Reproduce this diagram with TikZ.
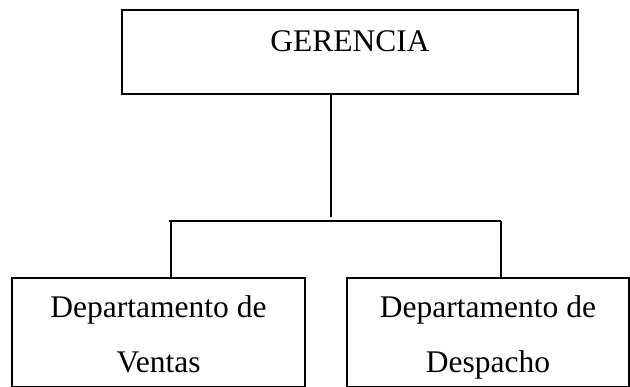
\documentclass[tikz,border=0pt]{standalone}
\usepackage{fontspec}
\setmainfont{Liberation Serif}
\begin{document}
\begin{tikzpicture}[x=1pt,y=-1pt,
  box/.style={draw=black, line width=2pt, inner sep=0pt, align=center,
    font=\fontsize{31.5}{55}\selectfont},
  conn/.style={draw=black, line width=1.1pt}]
\useasboundingbox (0,0) rectangle (630,387);
% top box
\node[box, minimum width=456pt, minimum height=84pt, text height=10pt, text depth=10pt] (ger) at (350,52) {GERENCIA};
% bottom boxes
\node[box, minimum width=293pt, text height=95pt, text depth=14pt, anchor=north] (ven) at (158.5,277) {Departamento de\\Ventas};
\node[box, minimum width=282pt, text height=95pt, text depth=14pt, anchor=north] (des) at (488,277) {Departamento de\\Despacho};
% connector points
\coordinate (jt) at (331,217);
\coordinate (hl) at (169,221);
\coordinate (hr) at (501,221);
\coordinate (sl) at (171,221);
\coordinate (sr) at (501,221);
\draw[conn] (ger.south -| jt) -- (jt);
\draw[conn] (hl) -- (hr);
\draw[conn] (sl) -- (ven.north -| sl);
\draw[conn] (sr) -- (des.north -| sr);
\end{tikzpicture}
\end{document}
